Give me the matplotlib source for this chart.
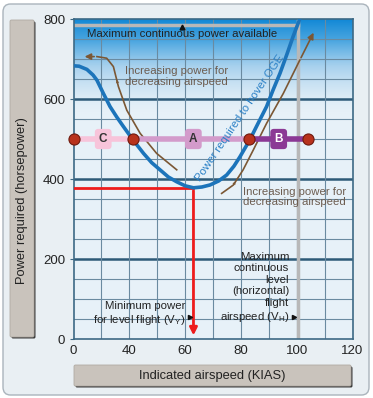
import numpy as np
import matplotlib
matplotlib.use("Agg")
import matplotlib.pyplot as plt
from matplotlib.patches import FancyBboxPatch
from matplotlib.colors import LinearSegmentedColormap

plt.rcParams['font.family'] = ['Liberation Sans', 'DejaVu Sans']

# power required to hover OGE curve (kias, horsepower)
curve_kias = [20, 22, 24.8, 27, 28.4, 30.7, 33.1, 35.5, 37.9, 41.3, 45.1, 48, 51,
              54, 57, 60, 63, 66, 68.9, 72, 74.9, 77.5, 79.7, 83.2, 86, 89.2,
              91.5, 94, 96.5, 98.7, 101.1]
curve_hp = [683, 682, 674, 660, 647, 614, 581, 555, 531, 498, 464, 441, 423,
            405, 393, 383, 378, 380, 385, 395, 410, 432, 456, 498, 537, 581,
            622, 664, 712, 756, 800]

# brown "increasing power" arrows
left_arrow_kias = [57.0, 49.8, 43.9, 39.1, 36.1, 34.3, 31.9, 28.4, 23.0]
left_arrow_hp = [423, 464, 514, 572, 631, 681, 702, 706, 706]
right_arrow_kias = [73.1, 77.3, 80.8, 84.4, 89.2, 95.2, 101.1, 106.5]
right_arrow_hp = [364, 385, 423, 472, 539, 614, 697, 772]

# speed ranges at 500 hp
range_points = [20, 41.3, 83.0, 104.1]
range_names = ['C', 'A', 'B']
range_colors = ['#f7c4da', '#d39bcb', '#8b3995']
range_text_colors = ['#333333', '#333333', 'white']
range_hp = 500

max_cont_power = 786
vh_speed = 100.6
vy_speed = 63
min_power = 378

x_ticks = [20, 40, 60, 80, 100, 120]
x_tick_labels = ['0', '40', '60', '80', '100', '120']
y_ticks = [0, 200, 400, 600, 800]

fig = plt.figure(figsize=(3.73, 3.98), dpi=100)
W, H = 373, 398

# outer frame
fig.patches.append(FancyBboxPatch((3 / W, 3 / H), 366 / W, 391 / H,
                                  boxstyle="round,pad=0,rounding_size=0.02",
                                  transform=fig.transFigure, facecolor='#e9eff3',
                                  edgecolor='#aab4bc', linewidth=1.0, zorder=-5))

ax = fig.add_axes([73.5 / W, 1 - 339 / H, 279 / W, 320 / H])
ax.set_xlim(20, 120)
ax.set_ylim(0, 800)
ax.set_facecolor('#e7f1f8')

# blue gradient at the top of the plot
grad = np.linspace(0, 1, 200).reshape(-1, 1)
cmap = LinearSegmentedColormap.from_list('sky', ['#e7f1f8', '#a9d2ee', '#4ba6e0', '#1188d6'])
ax.imshow(grad ** 1.6, cmap=cmap, extent=(20, 120, 560, 800), aspect='auto',
          origin='lower', zorder=0)

# grid
for y in range(50, 800, 50):
    major = y % 200 == 0
    ax.axhline(y, color='#2d5a78' if major else '#6a8aa0', lw=1.8 if major else 0.8, zorder=1)
for x in range(30, 120, 10):
    ax.axvline(x, color='#6a8aa0', lw=0.8, zorder=1)

for s in ax.spines.values():
    s.set_color('#3d6985')
    s.set_linewidth(1.2)

ax.set_xticks(x_ticks)
ax.set_xticklabels(x_tick_labels)
ax.set_yticks(y_ticks)
ax.tick_params(axis='both', length=3, color='#3d6985', labelsize=9.5, labelcolor='#222222', pad=3)
ax.tick_params(axis='x', length=0, pad=4)

# max continuous power / VH lines
ax.plot([20, vh_speed], [max_cont_power, max_cont_power], color='#b8b8b8', lw=2.5, zorder=2)
ax.axvline(vh_speed, color='#b8b8b8', lw=2.5, zorder=2)

# red min power lines
ax.plot([20, vy_speed], [min_power, min_power], color='#ee1c1c', lw=2, zorder=3)
ax.annotate('', xy=(vy_speed, 2), xytext=(vy_speed, min_power),
            arrowprops=dict(arrowstyle='-|>', color='#ee1c1c', lw=2, mutation_scale=11),
            zorder=3)

# brown arrows
brown = '#7b5734'
ax.plot(left_arrow_kias[:-1], left_arrow_hp[:-1], color=brown, lw=1.2, zorder=4)
ax.annotate('', xy=(left_arrow_kias[-1], left_arrow_hp[-1]),
            xytext=(left_arrow_kias[-2], left_arrow_hp[-2]),
            arrowprops=dict(arrowstyle='-|>', color=brown, lw=1.2, mutation_scale=9), zorder=4)
ax.annotate('', xy=(35.3, 655), xytext=(36.1, 631),
            arrowprops=dict(arrowstyle='-|>', color=brown, lw=0, mutation_scale=6), zorder=4)
ax.plot(right_arrow_kias[:-1], right_arrow_hp[:-1], color=brown, lw=1.2, zorder=4)
ax.annotate('', xy=(right_arrow_kias[-1], right_arrow_hp[-1]),
            xytext=(right_arrow_kias[-2], right_arrow_hp[-2]),
            arrowprops=dict(arrowstyle='-|>', color=brown, lw=1.2, mutation_scale=9), zorder=4)
ax.annotate('', xy=(78.6, 400), xytext=(77.3, 385),
            arrowprops=dict(arrowstyle='-|>', color=brown, lw=0, mutation_scale=6), zorder=4)

# speed ranges
for i, name in enumerate(range_names):
    x0, x1 = range_points[i], range_points[i + 1]
    ax.plot([x0, x1], [range_hp, range_hp], color=range_colors[i], lw=4, zorder=5,
            solid_capstyle='butt')
    ax.text((x0 + x1) / 2 + (0.8 if name == 'A' else 0), range_hp, name, ha='center', va='center',
            fontsize=8.5, fontweight='bold', color=range_text_colors[i], zorder=6,
            bbox=dict(boxstyle='round,pad=0.35,rounding_size=0.3', fc=range_colors[i], ec='none'))
ax.plot(range_points, [range_hp] * len(range_points), 'o', ms=8, mfc='#b8321c',
        mec='#6e1a0e', mew=0.8, zorder=8, clip_on=False)

# power required curve
ax.plot(curve_kias, curve_hp, color='#1c74ba', lw=2.6, zorder=7)

# texts
tc = '#222222'
bc = '#6d5d50'
fs = 8.2
ax.text(59, 762, 'Maximum continuous power available', ha='center', va='center',
        fontsize=fs, color=tc, zorder=9)
ax.plot(59, 781, '^', ms=3.5, color='#111111', zorder=9)
ax.text(38.3, 657, 'Increasing power for\ndecreasing airspeed', ha='left', va='center',
        fontsize=fs, color=bc, linespacing=1.1, zorder=9)
ax.text(80.8, 355, 'Increasing power for\ndecreasing airspeed', ha='left', va='center',
        fontsize=fs, color=bc, linespacing=1.1, zorder=9)
ax.text(79.5, 552, 'Power required to hover OGE', ha='center', va='center',
        rotation=56, rotation_mode='anchor', fontsize=fs, color='#2a80c6', zorder=9)
ax.text(97.3, 128, 'Maximum\ncontinuous\nlevel\n(horizontal)\nflight\nairspeed (V$_\\mathregular{H}$)',
        ha='right', va='center', fontsize=fs, color=tc, linespacing=1.2, zorder=9)
ax.plot(99.2, 56, '>', ms=3, color='#111111', zorder=9)
ax.text(60.2, 62, 'Minimum power\nfor level flight (V$_\\mathregular{Y}$)',
        ha='right', va='center', fontsize=fs, color=tc, linespacing=1.2, zorder=9)
ax.plot(61.8, 56, '>', ms=3, color='#111111', zorder=9)

# axis label boxes
def label_box(x, y, w, h):
    fig.patches.append(FancyBboxPatch((x / W + 1.5 / W, 1 - (y + h) / H - 1.5 / H), w / W, h / H,
                                      boxstyle="round,pad=0,rounding_size=0.004",
                                      transform=fig.transFigure, facecolor='#3a3a3a',
                                      edgecolor='none', zorder=1))
    fig.patches.append(FancyBboxPatch((x / W, 1 - (y + h) / H), w / W, h / H,
                                      boxstyle="round,pad=0,rounding_size=0.004",
                                      transform=fig.transFigure, facecolor='#c9c3bc',
                                      edgecolor='#b0aaa2', linewidth=0.6, zorder=2))

label_box(10, 20, 24, 317)
label_box(74, 365, 277, 21)
fig.text(22 / W, 1 - 201 / H, 'Power required (horsepower)', rotation=90, ha='center',
         va='center', fontsize=9.3, color='#222222')
fig.text(212 / W, 1 - 376 / H, 'Indicated airspeed (KIAS)', ha='center', va='center',
         fontsize=9.3, color='#222222')

fig.savefig('out.png', dpi=100)
